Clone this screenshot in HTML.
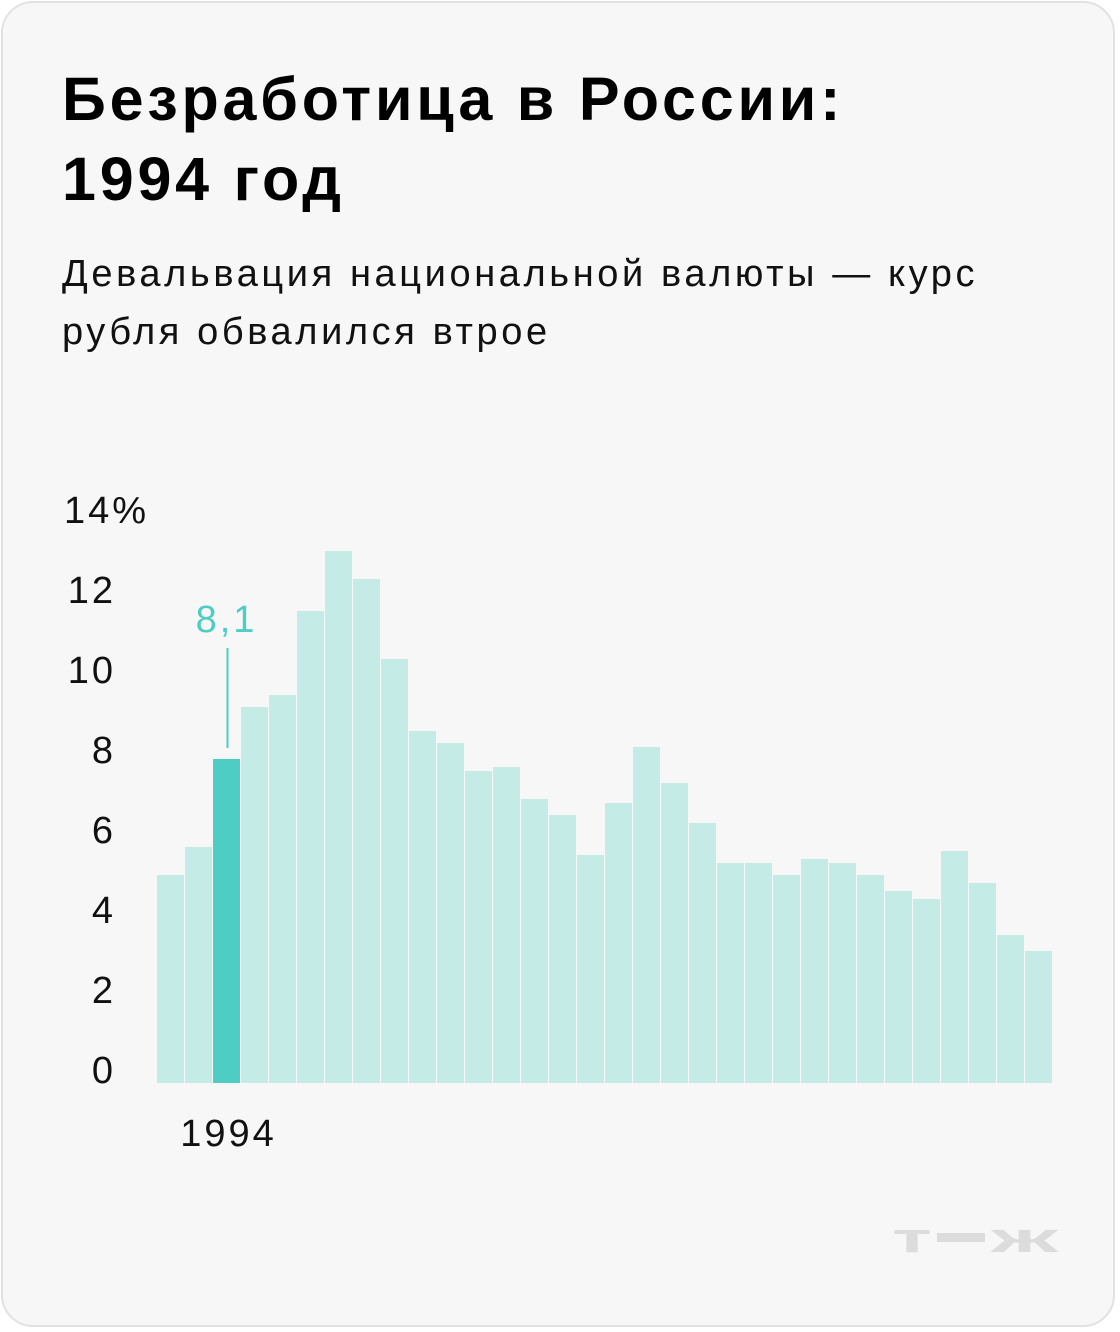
<!DOCTYPE html>
<html><head><meta charset="utf-8"><style>
html,body{margin:0;padding:0;background:#fff;}
body{width:1120px;height:1332px;position:relative;font-family:"Liberation Sans",sans-serif;}
.card{position:absolute;left:1px;top:1px;width:1114px;height:1326px;border:2px solid #e2e2e2;border-radius:32px;background:#f7f7f7;box-sizing:border-box;}
h1{position:absolute;left:59px;top:56px;margin:0;font-size:61px;line-height:80px;font-weight:bold;color:#000;letter-spacing:3.8px;}
.sub{position:absolute;left:59px;top:242px;margin:0;font-size:38px;line-height:58px;color:#111;letter-spacing:3.6px;}
</style></head><body>
<div class="card">
<h1>Безработица в России:<br>1994 год</h1>
<p class="sub">Девальвация национальной валюты — курс<br>рубля обвалился втрое</p>
</div>
<svg id="chart" width="1120" height="1332" style="position:absolute;left:0;top:0"></svg>
<script>
const years=[1992,1993,1994,1995,1996,1997,1998,1999,2000,2001,2002,2003,2004,2005,2006,2007,2008,2009,2010,2011,2012,2013,2014,2015,2016,2017,2018,2019,2020,2021,2022,2023];
const values=[5.2,5.9,8.1,9.4,9.7,11.8,13.3,12.6,10.6,8.8,8.5,7.8,7.9,7.1,6.7,5.7,7.0,8.4,7.5,6.5,5.5,5.5,5.2,5.6,5.5,5.2,4.8,4.6,5.8,5.0,3.7,3.3];
const yTicks=[0,2,4,6,8,10,12,14];
const yTickLabels=["0","2","4","6","8","10","12","14%"];
const highlightYear=1994;
const highlightLabel="8,1";
const NS="http://www.w3.org/2000/svg";
const svg=document.getElementById('chart');
const y0=1083,unit=40,x0=157,pitch=28;
const y=v=>y0-v*unit;
const x=i=>x0+i*pitch;
function mk(t,a){const e=document.createElementNS(NS,t);for(const k in a)e.setAttribute(k,a[k]);svg.appendChild(e);return e;}
yTicks.forEach((t,i)=>{
  const e=mk('text',{x:116,y:y(t)+0,'font-size':38,fill:'#111','letter-spacing':3,'font-family':'Liberation Sans, sans-serif'});
  
  
  e.textContent=yTickLabels[i];
  if(i===yTicks.length-1){e.setAttribute('x',64);}else{e.setAttribute('text-anchor','end');}
});
values.forEach((v,i)=>{
  const hi=years[i]===highlightYear;
  const r=mk('rect',{x:x(i),y:y(v),width:pitch-1,height:y0-y(v),fill:hi?'#4ecdc4':'#c5ebe7'});
  
  
  if(hi){
    const cx=x(i)+(pitch-1)/2;
    const l=mk('line',{x1:cx+1,x2:cx+1,y1:648,y2:748,stroke:'#4ecdc4','stroke-width':2});
    
    
    const t=mk('text',{x:cx,y:632,'font-size':38,fill:'#4ecdc4','text-anchor':'middle','letter-spacing':3,'font-family':'Liberation Sans, sans-serif'});
    
    
    t.textContent=highlightLabel;
    const yl=mk('text',{x:cx+2,y:1146,'font-size':38,fill:'#111','text-anchor':'middle','letter-spacing':3,'font-family':'Liberation Sans, sans-serif'});
    
    
    yl.textContent=String(years[i]);
  }
});
const lt=mk('text',{x:892,y:1252,'font-size':42,'font-weight':'bold',fill:'#dcdcdc',textLength:40,lengthAdjust:'spacingAndGlyphs','font-family':'Liberation Sans, sans-serif'});


lt.textContent='т';
const ld=mk('rect',{x:937,y:1233,width:48,height:9,fill:'#dcdcdc'});


const lz=mk('text',{x:991,y:1252,'font-size':42,'font-weight':'bold',fill:'#dcdcdc',textLength:67,lengthAdjust:'spacingAndGlyphs','font-family':'Liberation Sans, sans-serif'});


lz.textContent='ж';
</script>
</body></html>
